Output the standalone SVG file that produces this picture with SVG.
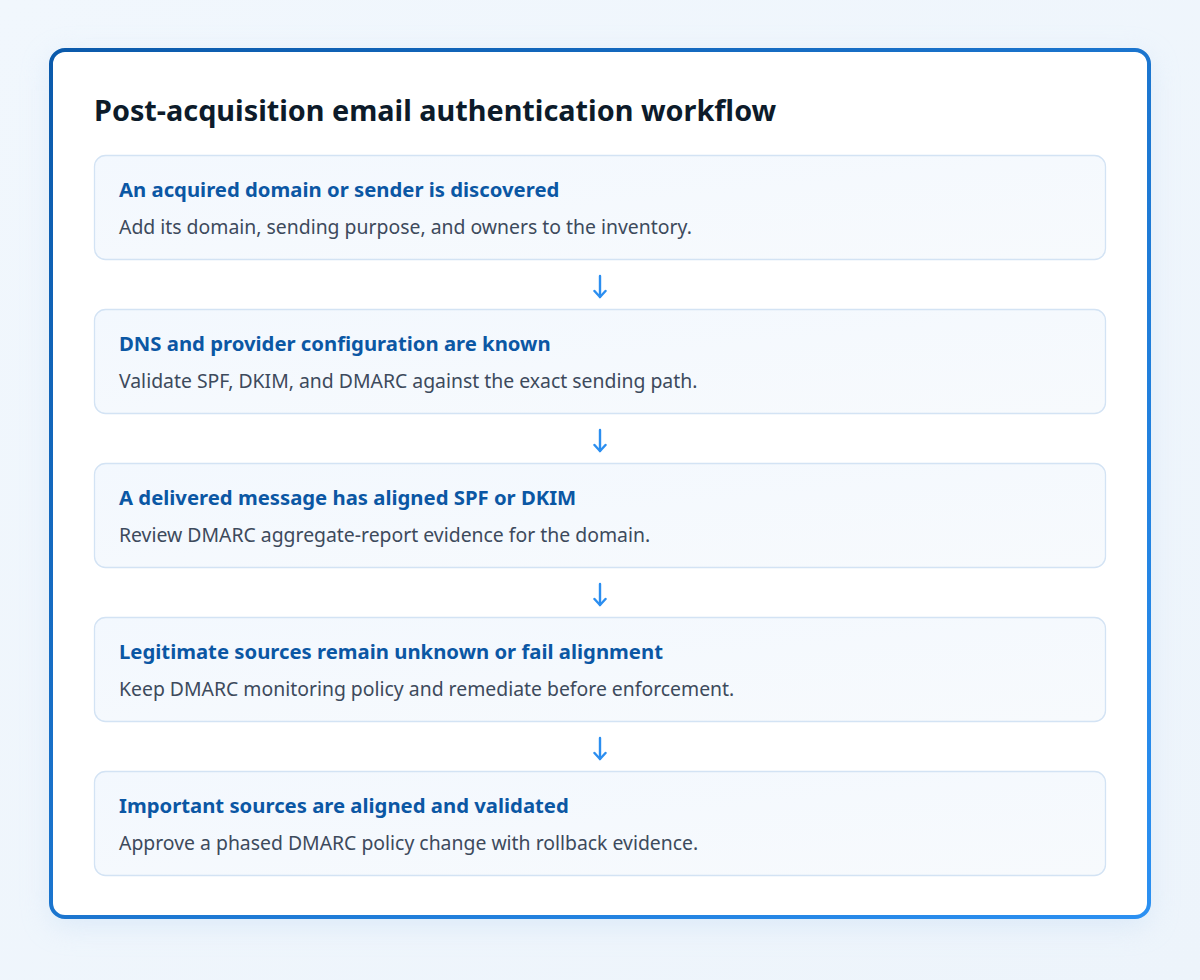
<svg xmlns="http://www.w3.org/2000/svg" width="1200" height="980" viewBox="0 0 1200 980">
<defs>
<linearGradient id="bg" x1="0" y1="0" x2="1" y2="1">
<stop offset="0" stop-color="#f1f7fd"/>
<stop offset="1" stop-color="#edf4fb"/>
</linearGradient>
<linearGradient id="frame" x1="0" y1="0" x2="1" y2="1">
<stop offset="0" stop-color="#0b5aab"/>
<stop offset="1" stop-color="#2b90f2"/>
</linearGradient>
<linearGradient id="card" x1="0" y1="0" x2="1" y2="1">
<stop offset="0" stop-color="#f3f8fe"/>
<stop offset="1" stop-color="#f7fafd"/>
</linearGradient>
<filter id="sh" x="-10%" y="-10%" width="120%" height="120%">
<feGaussianBlur stdDeviation="14"/>
</filter>
<marker id="ah" viewBox="0 0 12 14" refX="9" refY="7" markerWidth="12" markerHeight="14" markerUnits="userSpaceOnUse" orient="auto">
<path d="M3,1.5 L9,7 L3,12.5" fill="none" stroke="#2b8ef0" stroke-width="2.4" stroke-linecap="round" stroke-linejoin="round"/>
</marker>
</defs>
<style>
.title{font-family:"Noto Sans","Open Sans",sans-serif;font-weight:700;font-size:28.8px;fill:#0d1b2a}
.head{font-family:"Noto Sans","Open Sans",sans-serif;font-weight:700;font-size:20.3px;fill:#0b57a4}
.body{font-family:"Noto Sans","Open Sans",sans-serif;font-size:19.4px;fill:#3d4a5c}
.box{fill:url(#card);stroke:#d3e3f4;stroke-width:1.3}
.conn{stroke:#2b8ef0;stroke-width:2.4;fill:none;stroke-linecap:round}
</style>
<rect width="1200" height="980" fill="url(#bg)"/>
<rect x="50" y="56" width="1100" height="870" rx="16" fill="#cfe2f6" opacity="0.6" filter="url(#sh)"/>
<rect x="51" y="50" width="1098" height="867" rx="14" fill="#ffffff" stroke="url(#frame)" stroke-width="4"/>
<text class="title" x="94" y="121">Post-acquisition email authentication workflow</text>

<g id="node1">
<rect class="box" x="94.5" y="155.5" width="1011" height="104" rx="11"/>
<text class="head" x="119" y="197">An acquired domain or sender is discovered</text>
<text class="body" x="119" y="234">Add its domain, sending purpose, and owners to the inventory.</text>
</g>
<g id="node2">
<rect class="box" x="94.5" y="309.5" width="1011" height="104" rx="11"/>
<text class="head" x="119" y="351">DNS and provider configuration are known</text>
<text class="body" x="119" y="388">Validate SPF, DKIM, and DMARC against the exact sending path.</text>
</g>
<g id="node3">
<rect class="box" x="94.5" y="463.5" width="1011" height="104" rx="11"/>
<text class="head" x="119" y="505">A delivered message has aligned SPF or DKIM</text>
<text class="body" x="119" y="542">Review DMARC aggregate-report evidence for the domain.</text>
</g>
<g id="node4">
<rect class="box" x="94.5" y="617.5" width="1011" height="104" rx="11"/>
<text class="head" x="119" y="659">Legitimate sources remain unknown or fail alignment</text>
<text class="body" x="119" y="696">Keep DMARC monitoring policy and remediate before enforcement.</text>
</g>
<g id="node5">
<rect class="box" x="94.5" y="771.5" width="1011" height="104" rx="11"/>
<text class="head" x="119" y="813">Important sources are aligned and validated</text>
<text class="body" x="119" y="850">Approve a phased DMARC policy change with rollback evidence.</text>
</g>

<g id="connectors">
<line class="conn" x1="600" y1="276" x2="600" y2="297" marker-end="url(#ah)"/>
<line class="conn" x1="600" y1="430" x2="600" y2="451" marker-end="url(#ah)"/>
<line class="conn" x1="600" y1="584" x2="600" y2="605" marker-end="url(#ah)"/>
<line class="conn" x1="600" y1="738" x2="600" y2="759" marker-end="url(#ah)"/>
</g>
</svg>
